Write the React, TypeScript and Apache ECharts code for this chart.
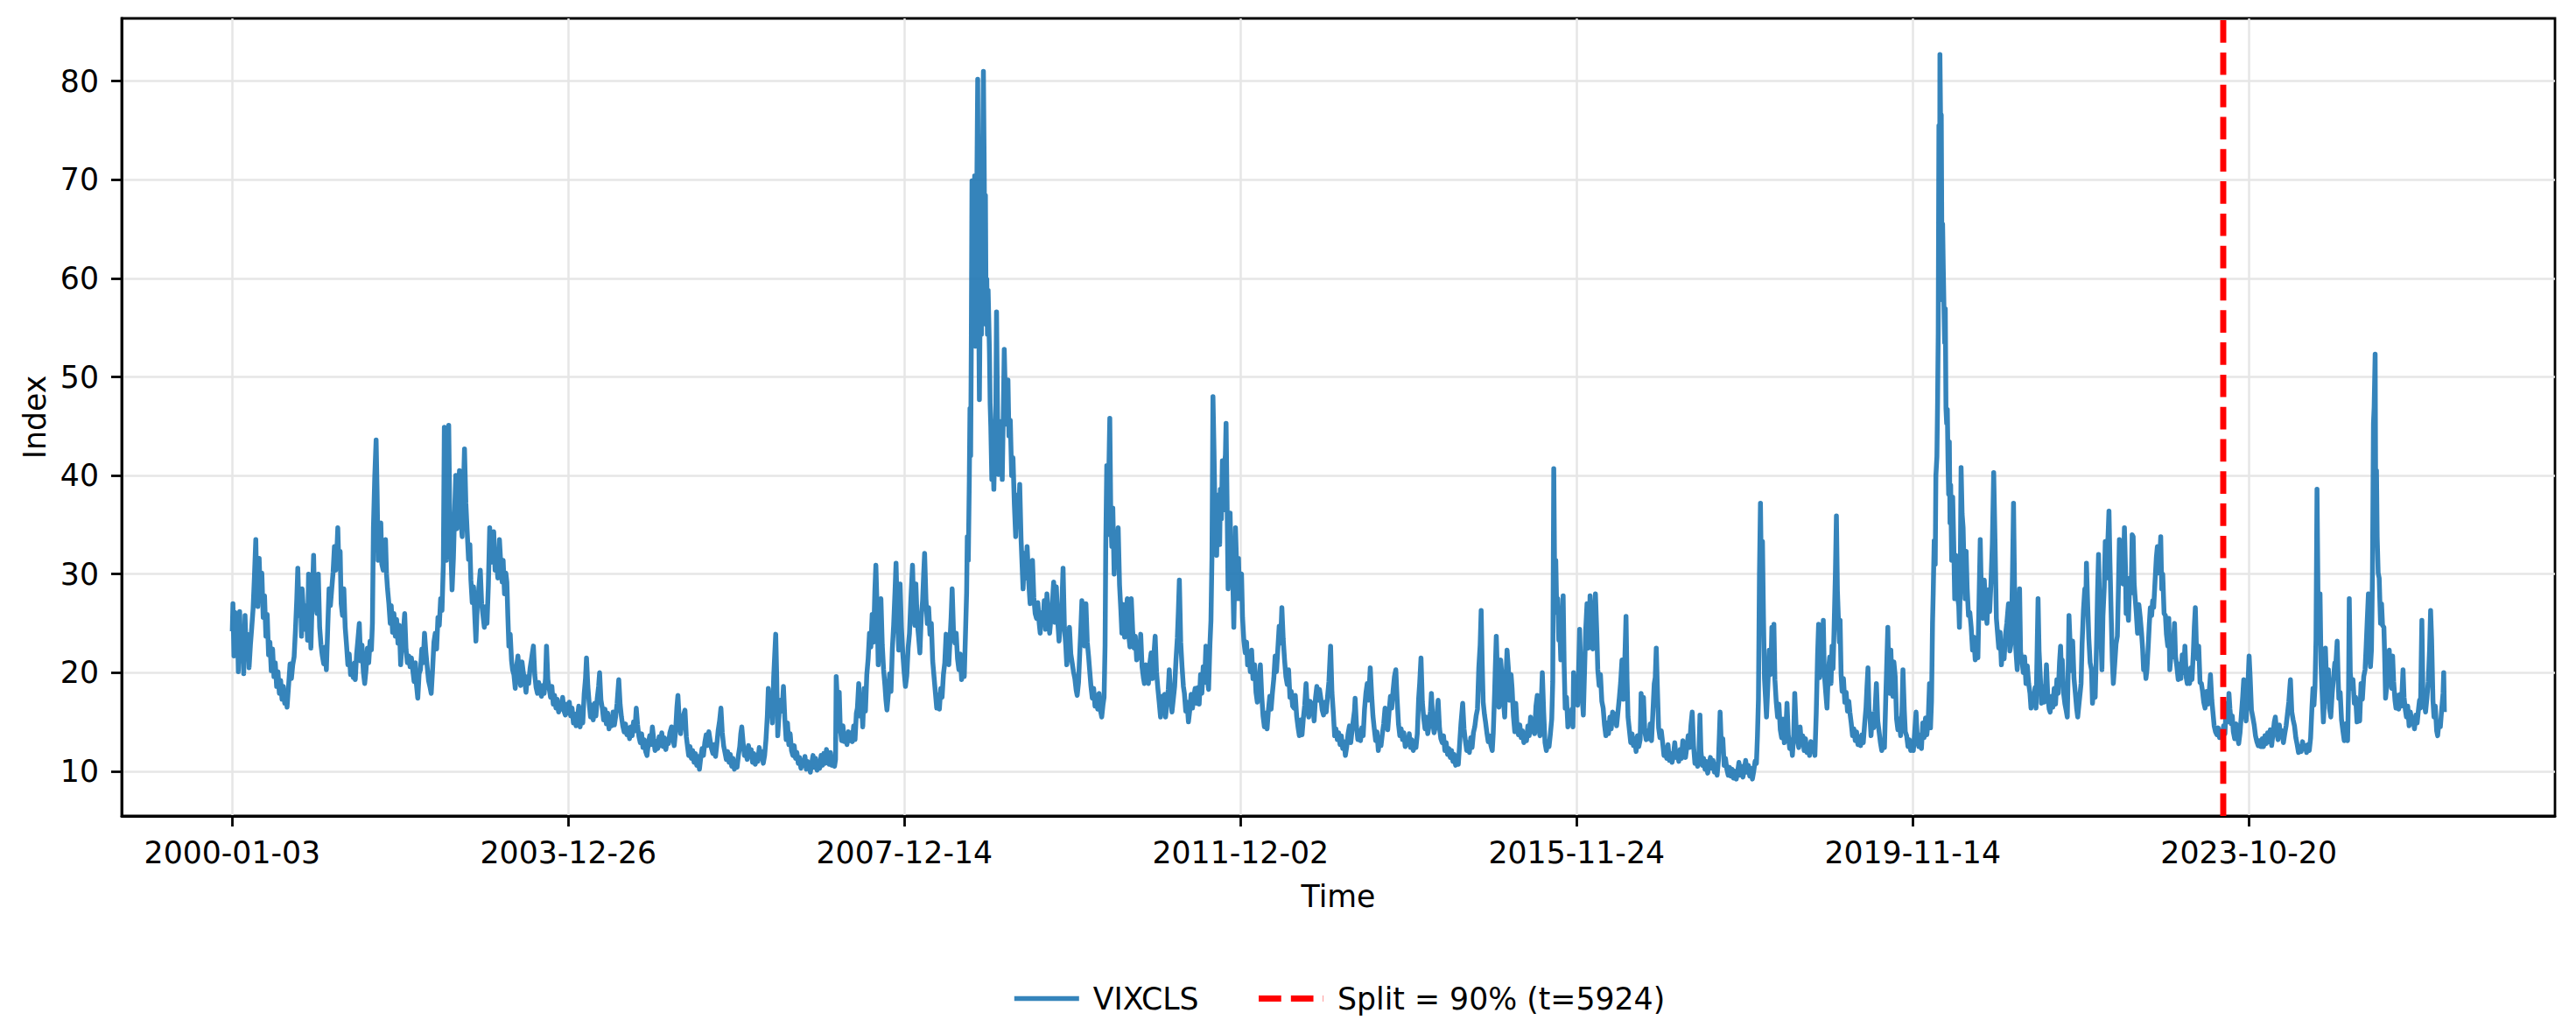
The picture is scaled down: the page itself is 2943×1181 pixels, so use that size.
import React, { useEffect, useRef } from "react";
import * as echarts from "echarts";

// ---- axis ticks ----
const tickIndex = [0, 1000, 2000, 3000, 4000, 5000, 6000];
const tickLabels = ["2000-01-03", "2003-12-26", "2007-12-14", "2011-12-02", "2015-11-24", "2019-11-14", "2023-10-20"];
const yTicks = [10, 20, 30, 40, 50, 60, 70, 80];
const nObs = 6583;
const splitIndex = 5924;
const yMin = 5.46;
const yMax = 86.37;

// ---- VIXCLS values, as [t, value] ----
const vixT0to540 = [[0,24.2],[2,27.0],[5,21.7],[8,26.1],[12,22],[15,25.4],[18,20.1],[22,26.2],[26,21.2],[30,24.5],[34,19.9],[38,25.8],[42,21.5],[46,23.9],[50,20.5],[54,22.8],[58,24.6],[62,26.5],[66,29.8],[70,33.5],[73,28.2],[76,26.7],[80,31.6],[84,27.4],[88,30.1],[92,25.6],[96,27.8],[100,23.7],[104,25.9],[108,21.8],[112,23.1],[116,20.2],[120,22.4],[124,19.6],[128,21.0],[132,18.6],[136,20.1],[140,17.9],[144,19.2],[148,17.3],[152,18.6],[156,16.9],[160,17.8],[163,16.5],[168,18.9],[172,20.9],[176,19.4],[180,20.8],[184,21.6],[188,24.3],[192,27.5],[195,30.6],[199,25.8],[203,28.4],[206,23.7],[208,28.5],[212,26.1],[216,24.4],[220,26.8],[224,23.3],[227,30.0],[231,25.9],[234,22.5],[238,27.6],[242,31.9],[245,27.2],[248,27.3],[252,26.0],[256,30.0],[260,24.6],[264,22.8],[268,21.7],[272,20.9],[276,22.6],[280,20.3],[284,24.5],[288,28.5],[292,26.8],[296,28.5],[300,30.2],[304,32.8],[308,30.4],[312,33.0],[314,34.7],[317,31.0],[321,32.3],[324,27.0],[328,25.8],[332,28.5],[336,24.6],[340,22.8],[344,20.8],[348,21.9],[352,19.8],[356,20.8],[360,19.5],[364,21.0],[366,19.3],[370,21.9],[374,23.4],[378,25.0],[382,21.2],[386,22.8],[390,20.1],[394,18.9],[398,20.3],[402,22.5],[406,21.0],[410,23.2],[414,22.3],[417,25.0],[420,34.7],[424,39.9],[428,43.6],[431,38.2],[434,31.4],[438,33.6],[442,35.2],[445,31.0],[449,30.4],[452,31.8],[456,33.5],[459,30.0],[462,28.5],[466,27.0],[470,25.0],[473,26.8],[477,24.1],[481,26.0],[485,23.7],[489,25.4],[493,23.0],[497,24.8],[501,20.8],[505,22.9],[509,24.0],[513,26.0],[517,22.4],[521,21.0],[525,21.7],[529,20.6],[533,21.5],[537,20.3]];

const vixT541to999 = [[541,19.1],[545,21.0],[548,18.8],[552,17.4],[556,19.9],[560,20.3],[564,22.4],[568,21.0],[572,24.0],[576,22.1],[580,20.6],[584,19.2],[588,18.6],[592,17.9],[596,20.3],[600,23.1],[604,24.0],[608,22.4],[612,25.6],[616,24.8],[620,27.5],[624,26.3],[628,31.0],[631,44.9],[634,36.0],[637,31.4],[641,37.8],[644,45.1],[647,36.5],[650,33.0],[654,28.4],[658,31.6],[662,36.8],[665,40.0],[668,34.6],[672,36.2],[676,40.5],[680,35.7],[684,33.8],[688,38.9],[691,42.7],[695,37.2],[699,34.3],[703,31.5],[707,33.0],[710,29.4],[714,27.1],[718,28.7],[722,25.4],[725,23.2],[729,26.8],[733,28.3],[738,30.4],[742,27.0],[746,25.8],[750,24.6],[754,26.7],[758,25.0],[762,28.9],[766,34.7],[770,31.2],[774,32.0],[778,34.3],[782,30.4],[786,31.8],[790,29.6],[795,33.5],[799,31.0],[803,29.2],[806,31.4],[810,28.0],[814,30.1],[817,29.2],[820,25.7],[823,22.7],[827,23.9],[831,21.2],[834,20.3],[838,19.8],[842,18.4],[846,20.6],[850,21.7],[854,19.5],[858,18.7],[862,21.1],[866,20.0],[870,19.2],[874,18.0],[878,19.6],[882,18.9],[886,20.4],[890,21.3],[896,22.7],[900,19.8],[904,18.5],[908,17.9],[912,19.0],[916,18.1],[920,17.6],[924,18.7],[928,17.9],[932,19.4],[935,22.7],[939,19.3],[943,18.4],[947,17.5],[951,18.6],[955,16.8],[959,17.7],[963,16.4],[967,17.3],[971,16.0],[975,16.9],[979,16.3],[983,17.5],[987,16.1],[991,15.7],[995,16.8],[999,15.9]];

const vixT1003to1728 = [[1003,17.0],[1007,15.6],[1011,16.4],[1015,14.9],[1019,15.8],[1023,14.6],[1027,15.3],[1031,16.6],[1035,14.5],[1039,15.9],[1043,14.9],[1047,17.8],[1051,19.4],[1054,21.5],[1058,18.6],[1062,16.9],[1066,15.5],[1070,16.7],[1074,15.2],[1078,16.9],[1082,15.6],[1086,17.4],[1090,18.6],[1093,20.0],[1097,17.2],[1101,16.4],[1105,15.2],[1109,16.3],[1113,14.8],[1117,15.9],[1121,14.3],[1125,15.5],[1129,14.6],[1133,16.0],[1137,14.7],[1141,15.6],[1145,16.9],[1150,19.3],[1154,16.8],[1158,15.5],[1162,14.6],[1166,14.0],[1170,14.8],[1174,13.7],[1178,14.4],[1182,13.3],[1186,14.5],[1190,13.6],[1194,15.0],[1198,14.1],[1202,16.4],[1206,14.7],[1210,13.5],[1214,12.9],[1218,13.8],[1222,12.4],[1226,13.2],[1230,12.0],[1234,11.6],[1238,12.8],[1242,13.6],[1246,12.7],[1250,14.5],[1254,13.2],[1258,12.1],[1262,13.0],[1266,12.3],[1270,13.5],[1274,12.6],[1278,13.9],[1282,12.5],[1286,13.4],[1290,12.2],[1294,13.1],[1298,12.8],[1302,13.9],[1307,14.5],[1311,13.3],[1315,12.6],[1319,14.0],[1323,16.5],[1326,17.7],[1330,15.2],[1334,13.8],[1338,14.9],[1342,15.6],[1347,16.2],[1351,13.5],[1355,12.4],[1358,11.6],[1362,12.5],[1366,11.3],[1370,12.1],[1374,10.9],[1378,11.8],[1382,10.6],[1386,11.5],[1390,10.2],[1394,11.4],[1398,12.3],[1402,11.6],[1406,12.9],[1410,13.7],[1414,12.6],[1418,14.0],[1422,13.1],[1426,12.3],[1430,11.8],[1434,12.7],[1438,11.5],[1442,12.8],[1446,14.2],[1450,15.1],[1454,16.4],[1458,13.9],[1462,12.6],[1466,11.9],[1470,11.2],[1474,12.0],[1478,10.9],[1482,11.7],[1486,10.5],[1490,11.3],[1494,10.2],[1498,11.0],[1502,10.4],[1506,11.6],[1510,12.5],[1513,13.8],[1516,14.5],[1520,12.9],[1524,11.6],[1528,12.3],[1532,11.2],[1536,12.6],[1540,11.5],[1544,12.2],[1548,10.9],[1552,11.8],[1556,10.7],[1560,11.6],[1564,11.0],[1568,12.4],[1572,11.3],[1576,12.0],[1580,10.8],[1584,11.6],[1588,13.2],[1592,15.6],[1595,18.4],[1599,16.0],[1603,17.4],[1607,14.9],[1611,19.6],[1614,21.8],[1617,23.9],[1620,19.5],[1623,13.6],[1627,15.8],[1631,17.2],[1636,16.1],[1640,18.6],[1644,15.4],[1648,13.2],[1652,14.9],[1656,12.7],[1660,13.8],[1664,12.1],[1668,11.6],[1672,12.6],[1676,11.3],[1680,11.9],[1684,10.8],[1688,11.4],[1692,10.3],[1696,11.1],[1700,10.6],[1704,11.5],[1708,10.2],[1712,11.0],[1716,10.5],[1720,9.9],[1724,10.8],[1728,11.6]];

const vixT1732to2500 = [[1732,10.4],[1736,11.3],[1740,10.1],[1744,10.9],[1748,10.3],[1752,11.6],[1756,10.6],[1760,11.8],[1764,10.8],[1768,12.2],[1772,11.3],[1776,10.7],[1780,11.9],[1784,10.6],[1788,11.4],[1792,10.5],[1795,11.2],[1797,19.6],[1800,17.5],[1803,14.1],[1806,18.0],[1809,14.4],[1813,13.1],[1817,14.6],[1821,13.0],[1825,13.8],[1829,12.7],[1833,14.0],[1837,13.1],[1841,13.9],[1845,13.0],[1849,14.6],[1853,13.2],[1857,15.9],[1860,16.4],[1864,18.9],[1868,15.6],[1872,17.0],[1876,14.5],[1880,18.4],[1884,16.1],[1888,19.8],[1892,21.4],[1896,24.0],[1900,22.6],[1904,25.9],[1908,23.1],[1912,28.3],[1915,30.9],[1919,26.1],[1922,20.8],[1926,24.7],[1930,27.5],[1934,22.8],[1938,20.3],[1942,18.7],[1945,17.2],[1948,16.2],[1952,17.8],[1956,19.9],[1960,18.1],[1964,22.4],[1968,24.9],[1972,28.3],[1975,31.1],[1979,25.8],[1983,22.3],[1987,29.0],[1991,24.6],[1995,22.0],[1999,20.1],[2003,18.6],[2007,19.7],[2011,22.5],[2015,24.0],[2019,27.3],[2024,30.9],[2028,26.1],[2031,24.8],[2034,29.0],[2038,25.2],[2042,23.7],[2046,22.0],[2050,25.6],[2054,27.3],[2057,29.8],[2060,32.1],[2064,27.5],[2068,25.0],[2072,26.6],[2076,23.9],[2080,25.0],[2084,21.2],[2088,19.6],[2092,18.0],[2096,16.4],[2100,17.7],[2104,16.3],[2108,18.4],[2112,17.5],[2116,19.8],[2120,21.0],[2124,23.9],[2128,22.1],[2132,20.8],[2136,23.6],[2139,25.7],[2142,28.5],[2146,24.2],[2150,23.0],[2154,24.0],[2158,21.4],[2162,20.3],[2166,21.9],[2170,19.3],[2174,21.0],[2178,19.6],[2182,24.4],[2185,28.1],[2187,33.8],[2190,31.4],[2193,39.5],[2195,46.8],[2197,42.0],[2199,53.7],[2201,69.9],[2203,57.0],[2205,69.3],[2207,62.1],[2209,70.4],[2211,53.1],[2213,61.8],[2215,67.6],[2218,80.2],[2220,61.4],[2223,47.7],[2225,56.1],[2227,59.9],[2229,54.3],[2231,66.3],[2233,74.3],[2235,81.0],[2237,72.7],[2239,63.1],[2241,68.4],[2243,55.3],[2245,59.9],[2247,54.3],[2249,58.8],[2251,55.7],[2253,52.4],[2255,47.3],[2257,44.9],[2260,39.6],[2263,42.5],[2266,38.6],[2269,43.3],[2272,47.3],[2274,56.6],[2277,46.1],[2280,40.1],[2283,45.5],[2286,41.6],[2289,43.4],[2291,39.6],[2294,46.0],[2297,52.8],[2300,48.5],[2304,45.2],[2308,49.7],[2311,44.0],[2315,45.6],[2319,40.0],[2323,41.8],[2327,37.1],[2331,33.8],[2335,38.0],[2339,35.2],[2343,39.1],[2347,33.5],[2350,31.0],[2353,28.5],[2357,32.1],[2361,29.6],[2365,32.8],[2370,29.1],[2374,27.0],[2378,29.2],[2381,31.4],[2385,27.6],[2389,26.0],[2393,25.5],[2397,27.1],[2401,25.0],[2404,24.0],[2408,26.1],[2412,25.0],[2416,27.3],[2420,24.4],[2424,28.0],[2428,25.7],[2432,24.0],[2436,25.6],[2440,27.0],[2444,29.2],[2448,25.1],[2452,28.7],[2456,25.3],[2460,23.2],[2464,24.9],[2468,26.6],[2472,30.6],[2476,24.6],[2480,22.8],[2483,20.8],[2487,22.0],[2491,24.6],[2495,21.9],[2499,21.0]];

const vixT2503to3466 = [[2503,20.1],[2507,19.4],[2511,18.2],[2514,17.7],[2518,19.0],[2522,22.3],[2525,24.6],[2528,27.3],[2532,24.0],[2536,22.7],[2540,27.0],[2544,23.1],[2548,21.6],[2551,20.3],[2555,18.6],[2559,17.4],[2563,18.4],[2567,16.6],[2571,17.7],[2575,16.3],[2579,17.9],[2583,16.2],[2587,15.5],[2591,16.8],[2594,17.5],[2597,22.8],[2599,32.8],[2602,41.0],[2605,34.0],[2608,40.1],[2611,45.8],[2614,35.9],[2617,32.8],[2620,36.7],[2624,30.0],[2628,34.2],[2632,31.6],[2636,34.7],[2640,28.9],[2644,26.3],[2647,24.0],[2651,26.9],[2655,23.6],[2659,25.9],[2663,27.5],[2667,23.9],[2671,22.6],[2675,27.5],[2679,24.3],[2683,22.5],[2687,23.7],[2691,21.3],[2695,22.9],[2699,21.5],[2703,23.9],[2707,20.6],[2711,19.5],[2714,18.9],[2718,20.8],[2722,19.2],[2726,18.9],[2730,20.9],[2734,22.0],[2738,19.4],[2742,21.7],[2746,23.7],[2750,20.1],[2754,18.4],[2758,17.0],[2762,15.5],[2766,17.6],[2770,16.2],[2774,17.8],[2777,15.5],[2781,16.9],[2785,18.3],[2788,20.3],[2792,17.6],[2796,16.0],[2800,17.3],[2804,18.6],[2808,21.3],[2812,23.5],[2815,26.2],[2818,29.4],[2822,23.1],[2826,20.6],[2830,18.6],[2833,17.9],[2837,16.1],[2841,17.0],[2845,15.0],[2849,16.2],[2853,17.8],[2857,16.4],[2861,17.6],[2865,18.4],[2869,16.9],[2873,18.5],[2877,16.8],[2881,19.8],[2885,17.9],[2889,20.6],[2893,19.0],[2897,22.7],[2901,19.6],[2905,18.3],[2909,22.9],[2912,25.3],[2915,31.7],[2918,48.0],[2921,42.7],[2924,36.2],[2927,33.9],[2929,31.9],[2932,38.0],[2935,35.1],[2938,33.0],[2940,38.6],[2943,35.6],[2946,41.5],[2949,36.5],[2952,40.8],[2955,42.1],[2957,45.3],[2960,37.2],[2963,28.5],[2966,32.1],[2969,36.2],[2972,30.9],[2975,33.3],[2978,27.8],[2980,24.6],[2983,30.2],[2985,34.7],[2988,31.4],[2991,27.5],[2994,31.6],[2997,27.5],[3000,29.9],[3003,30.0],[3006,25.6],[3010,23.2],[3014,22.0],[3018,23.1],[3021,20.8],[3025,21.9],[3029,20.1],[3033,22.3],[3037,19.4],[3042,20.8],[3046,18.0],[3050,17.0],[3054,18.4],[3059,20.8],[3063,17.7],[3067,15.6],[3071,14.5],[3075,15.9],[3079,14.3],[3083,16.2],[3087,17.6],[3091,16.3],[3095,18.0],[3099,19.4],[3103,21.7],[3107,20.1],[3111,22.4],[3115,24.7],[3119,23.0],[3123,26.6],[3127,23.4],[3131,21.3],[3135,19.6],[3139,18.8],[3143,20.3],[3147,17.5],[3151,18.1],[3155,16.6],[3159,16.4],[3163,17.7],[3167,15.6],[3171,14.5],[3175,13.6],[3179,15.2],[3183,13.7],[3187,15.4],[3191,16.7],[3195,18.9],[3199,16.3],[3203,15.5],[3207,17.1],[3211,15.8],[3215,16.9],[3219,15.1],[3223,17.4],[3227,18.6],[3231,17.2],[3235,18.3],[3239,17.4],[3243,16.2],[3247,15.7],[3251,17.0],[3255,16.0],[3259,17.6],[3263,19.1],[3268,22.7],[3272,18.0],[3276,16.0],[3280,13.6],[3284,14.3],[3288,13.2],[3292,13.9],[3296,12.7],[3300,13.6],[3304,12.3],[3308,13.0],[3312,11.6],[3316,12.5],[3320,13.8],[3324,14.6],[3328,12.9],[3332,14.2],[3336,15.3],[3339,16.1],[3341,17.4],[3345,14.6],[3349,13.2],[3353,14.1],[3357,13.1],[3361,14.4],[3365,13.6],[3369,16.3],[3373,17.9],[3377,18.9],[3381,17.2],[3386,20.5],[3390,17.8],[3394,15.6],[3398,14.3],[3402,13.1],[3406,14.0],[3410,12.1],[3414,13.4],[3418,12.6],[3422,13.8],[3426,14.8],[3430,16.4],[3434,15.0],[3438,14.2],[3442,16.0],[3446,17.6],[3450,16.4],[3454,18.2],[3458,19.6],[3462,20.3],[3466,17.3]];

const vixT3470to4535 = [[3470,14.8],[3474,13.6],[3478,14.3],[3482,13.2],[3486,13.9],[3490,12.5],[3494,13.4],[3498,12.7],[3502,13.8],[3506,12.4],[3510,13.2],[3514,12.1],[3518,13.0],[3522,12.4],[3526,13.8],[3530,17.4],[3533,18.9],[3537,21.5],[3541,17.0],[3545,15.4],[3549,14.3],[3553,15.5],[3557,13.8],[3561,14.6],[3565,16.1],[3568,17.9],[3572,15.0],[3576,13.9],[3580,14.5],[3584,15.6],[3588,17.2],[3592,14.4],[3596,13.3],[3600,12.9],[3604,13.6],[3608,12.1],[3612,12.9],[3616,11.7],[3620,12.3],[3624,11.4],[3628,12.1],[3632,11.0],[3636,11.7],[3640,10.6],[3644,11.5],[3648,10.7],[3652,12.8],[3656,14.9],[3661,16.9],[3665,14.3],[3669,13.1],[3673,12.1],[3677,12.9],[3681,11.9],[3685,13.4],[3689,12.4],[3693,13.9],[3697,14.5],[3701,15.6],[3705,16.3],[3709,20.5],[3713,22.8],[3716,26.3],[3719,21.1],[3722,17.0],[3726,15.7],[3729,15.0],[3733,13.9],[3737,13.0],[3741,13.6],[3745,12.6],[3749,12.1],[3752,13.9],[3756,17.9],[3758,20.4],[3761,23.7],[3765,19.2],[3769,16.5],[3772,17.8],[3774,21.3],[3778,19.6],[3782,17.3],[3786,15.5],[3789,18.6],[3793,22.3],[3797,20.4],[3801,17.2],[3805,19.8],[3808,18.4],[3812,15.6],[3816,14.0],[3819,16.9],[3823,14.5],[3827,13.7],[3831,14.7],[3835,13.4],[3839,14.1],[3843,12.9],[3847,13.8],[3851,13.1],[3855,14.6],[3859,13.6],[3863,15.5],[3867,14.0],[3871,15.1],[3875,13.8],[3879,16.6],[3883,17.7],[3887,14.4],[3891,13.6],[3895,17.1],[3898,20.0],[3902,16.0],[3906,12.9],[3910,12.1],[3914,13.0],[3918,12.5],[3922,13.8],[3926,15.3],[3929,19.1],[3932,40.7],[3935,28.0],[3938,31.4],[3941,26.1],[3944,27.5],[3947,23.3],[3950,24.4],[3953,21.3],[3957,24.9],[3960,27.8],[3963,20.6],[3966,16.4],[3970,17.5],[3974,14.5],[3978,15.8],[3982,14.9],[3986,16.3],[3989,14.5],[3991,20.0],[3995,16.9],[3999,18.1],[4003,16.7],[4006,20.2],[4009,24.4],[4013,19.3],[4017,17.3],[4020,15.7],[4024,20.6],[4027,24.3],[4031,27.0],[4035,22.5],[4038,24.7],[4040,27.8],[4044,23.8],[4048,22.4],[4052,25.4],[4056,28.0],[4060,24.1],[4063,20.3],[4067,18.7],[4071,19.8],[4075,17.1],[4079,16.4],[4083,14.7],[4087,13.6],[4091,14.9],[4095,13.8],[4099,15.5],[4103,14.3],[4107,16.0],[4111,14.9],[4115,15.8],[4119,14.6],[4123,16.0],[4127,17.4],[4131,19.0],[4135,21.3],[4139,17.3],[4143,20.7],[4147,25.7],[4150,19.4],[4153,15.5],[4157,14.2],[4161,12.9],[4165,13.8],[4169,12.6],[4173,13.3],[4177,12.0],[4181,13.6],[4185,12.5],[4189,13.2],[4192,17.9],[4196,15.4],[4199,17.5],[4203,14.0],[4207,13.2],[4211,14.1],[4215,13.3],[4219,14.8],[4223,13.1],[4227,16.0],[4231,18.9],[4234,19.5],[4237,22.5],[4240,18.8],[4244,14.4],[4248,13.4],[4252,14.1],[4256,12.9],[4260,11.6],[4264,12.4],[4268,11.3],[4272,12.7],[4276,11.1],[4280,11.8],[4284,10.9],[4288,11.6],[4292,12.9],[4296,11.4],[4300,12.0],[4304,11.0],[4308,12.2],[4312,11.3],[4316,13.1],[4320,12.0],[4324,11.4],[4328,12.5],[4332,13.6],[4336,12.4],[4340,14.6],[4344,16.0],[4348,12.6],[4352,10.8],[4356,11.4],[4360,10.5],[4364,11.9],[4367,15.7],[4370,12.0],[4374,10.6],[4378,11.3],[4382,10.2],[4386,11.0],[4390,9.8],[4394,10.6],[4398,11.4],[4402,10.3],[4406,11.1],[4410,9.9],[4414,10.7],[4418,9.6],[4422,11.1],[4425,13.9],[4427,16.0],[4431,12.3],[4435,13.3],[4439,10.6],[4443,11.3],[4447,10.2],[4451,9.6],[4455,10.4],[4459,9.5],[4463,10.2],[4467,9.3],[4471,10.0],[4475,9.2],[4479,9.9],[4483,10.9],[4487,9.6],[4491,10.5],[4495,9.4],[4499,10.2],[4503,11.1],[4507,9.9],[4511,10.6],[4515,9.5],[4519,10.3],[4523,9.2],[4527,10.0],[4531,11.0],[4535,10.8]];

const vixT4538to5050 = [[4538,13.5],[4541,17.3],[4544,29.9],[4547,37.2],[4550,29.1],[4553,33.3],[4556,25.6],[4559,19.4],[4562,17.5],[4565,15.5],[4569,18.7],[4573,22.3],[4576,19.8],[4579,21.6],[4581,24.6],[4584,20.1],[4587,24.9],[4590,19.3],[4594,17.0],[4598,15.5],[4602,16.8],[4606,14.2],[4610,13.4],[4614,15.3],[4618,12.9],[4622,13.8],[4626,16.9],[4630,13.6],[4634,12.3],[4638,13.2],[4642,11.6],[4646,13.7],[4649,17.9],[4653,14.6],[4657,13.2],[4661,12.4],[4665,14.5],[4669,12.7],[4673,13.6],[4677,12.1],[4681,13.3],[4685,11.9],[4689,12.7],[4693,11.6],[4697,13.0],[4701,12.0],[4705,12.9],[4709,11.6],[4713,15.9],[4717,21.8],[4720,24.9],[4723,19.5],[4727,21.3],[4730,19.9],[4734,25.3],[4737,19.9],[4741,18.1],[4745,16.4],[4749,20.1],[4753,21.6],[4757,18.9],[4760,22.7],[4763,20.4],[4766,24.3],[4770,30.1],[4773,35.9],[4776,28.3],[4779,25.4],[4782,23.1],[4784,25.3],[4787,19.8],[4790,18.1],[4794,19.4],[4798,17.0],[4802,18.0],[4806,16.1],[4810,17.1],[4813,16.0],[4817,14.9],[4821,13.6],[4825,14.3],[4829,13.1],[4833,14.0],[4837,12.7],[4841,13.5],[4845,12.6],[4849,13.7],[4853,12.9],[4857,14.8],[4861,16.4],[4864,18.6],[4867,20.5],[4870,16.3],[4873,15.4],[4876,13.6],[4880,15.8],[4884,14.4],[4888,16.1],[4892,18.9],[4896,15.1],[4900,14.0],[4904,12.9],[4908,12.1],[4912,13.0],[4916,12.4],[4920,17.6],[4923,21.1],[4926,24.6],[4929,19.5],[4932,17.9],[4935,22.3],[4938,19.3],[4941,17.6],[4944,21.1],[4948,19.6],[4952,15.3],[4956,14.2],[4960,15.3],[4964,13.6],[4968,16.0],[4971,20.3],[4975,16.2],[4978,14.0],[4982,13.6],[4986,12.5],[4990,13.2],[4994,12.1],[4998,12.9],[5002,12.1],[5006,14.0],[5010,16.0],[5014,13.2],[5018,12.5],[5022,13.7],[5026,12.3],[5030,14.9],[5034,13.4],[5038,15.4],[5042,13.7],[5046,15.0],[5050,18.9]];

const vixT5053to5900 = [[5053,14.4],[5056,17.1],[5059,25.0],[5061,28.0],[5064,33.4],[5067,31.0],[5069,40.0],[5072,41.9],[5074,47.3],[5076,54.5],[5078,75.5],[5080,57.8],[5081,82.7],[5083,75.9],[5085,76.6],[5087,61.6],[5089,65.5],[5091,61.0],[5093,57.1],[5095,53.5],[5097,56.9],[5099,46.8],[5101,45.3],[5103,46.7],[5105,41.7],[5107,38.1],[5109,43.4],[5111,35.2],[5113,39.0],[5116,31.4],[5119,37.8],[5122,33.3],[5125,27.5],[5128,31.9],[5131,29.0],[5134,27.6],[5137,26.8],[5139,24.6],[5141,28.0],[5144,40.8],[5147,36.1],[5150,34.7],[5153,30.4],[5156,27.5],[5159,32.3],[5162,28.6],[5166,25.8],[5170,26.1],[5174,24.6],[5178,22.3],[5182,23.6],[5186,21.3],[5190,22.5],[5194,21.5],[5197,26.6],[5201,33.5],[5205,26.9],[5209,25.5],[5213,29.4],[5217,26.7],[5221,25.0],[5225,28.4],[5229,26.2],[5233,29.2],[5237,33.1],[5241,40.3],[5245,33.3],[5249,25.5],[5253,23.8],[5256,22.5],[5260,24.1],[5264,20.8],[5268,22.9],[5272,21.4],[5276,23.8],[5280,25.0],[5285,27.0],[5289,22.2],[5293,23.0],[5297,30.2],[5300,37.2],[5303,28.9],[5307,22.3],[5311,20.3],[5315,23.4],[5318,28.5],[5321,22.1],[5325,21.3],[5329,20.0],[5333,21.6],[5337,18.9],[5341,20.7],[5345,18.9],[5349,17.9],[5352,16.4],[5356,17.5],[5360,16.9],[5364,18.5],[5367,16.4],[5370,21.8],[5373,27.5],[5376,22.2],[5380,19.4],[5383,16.9],[5387,18.6],[5391,17.0],[5395,18.4],[5398,20.8],[5402,17.6],[5406,16.3],[5409,16.0],[5413,17.6],[5417,16.5],[5421,18.4],[5425,16.8],[5429,19.3],[5433,17.9],[5437,21.1],[5440,22.7],[5443,19.6],[5445,21.3],[5449,17.9],[5453,16.8],[5457,16.1],[5460,15.5],[5463,20.9],[5465,25.8],[5468,23.3],[5472,20.2],[5476,23.2],[5480,19.4],[5484,17.9],[5488,16.3],[5491,15.5],[5495,16.9],[5499,18.2],[5501,18.9],[5504,22.9],[5508,26.3],[5512,28.5],[5515,26.8],[5517,31.1],[5520,27.6],[5524,23.5],[5528,21.0],[5532,20.3],[5535,16.9],[5539,18.8],[5543,17.5],[5547,22.8],[5550,28.1],[5553,32.0],[5556,27.2],[5559,24.9],[5563,20.3],[5566,25.7],[5570,28.7],[5573,33.3],[5577,29.6],[5581,33.6],[5584,36.4],[5587,31.1],[5590,26.7],[5594,21.2],[5597,18.9],[5601,20.8],[5605,22.9],[5609,23.7],[5612,28.4],[5615,33.5],[5618,29.9],[5622,31.8],[5626,29.0],[5630,34.7],[5633,30.8],[5635,26.0],[5638,27.2],[5642,25.3],[5646,29.6],[5650,28.1],[5653,34.0],[5656,33.8],[5659,29.0],[5661,28.0],[5665,26.2],[5669,24.0],[5673,26.9],[5677,25.6],[5681,24.0],[5684,22.5],[5687,20.3],[5690,21.3],[5694,19.4],[5697,20.3],[5701,22.8],[5704,24.9],[5707,26.6],[5711,25.8],[5714,27.3],[5717,26.6],[5721,29.2],[5725,31.7],[5728,32.8],[5731,30.1],[5735,31.4],[5738,33.8],[5741,28.5],[5744,30.0],[5748,26.0],[5752,25.8],[5755,23.9],[5759,22.7],[5762,25.5],[5765,20.3],[5769,22.0],[5773,21.6],[5776,23.2],[5779,25.0],[5782,21.7],[5786,20.6],[5790,19.3],[5794,20.9],[5798,19.4],[5802,21.8],[5806,20.0],[5810,22.7],[5814,19.5],[5817,18.9],[5820,19.9],[5824,18.9],[5827,20.5],[5831,19.3],[5835,22.0],[5838,24.7],[5841,26.6],[5844,22.9],[5848,21.4],[5851,22.7],[5855,19.0],[5859,18.9],[5862,18.2],[5866,17.0],[5870,16.4],[5874,18.1],[5878,16.8],[5882,17.9],[5886,19.8],[5890,17.2],[5893,16.1],[5897,14.6]];

const vixT5901to6582 = [[5901,14.0],[5905,13.7],[5909,14.4],[5913,13.4],[5917,13.9],[5921,13.6],[5925,14.6],[5929,13.8],[5932,16.1],[5934,16.9],[5938,15.0],[5941,17.9],[5944,16.3],[5948,14.8],[5951,15.6],[5954,14.0],[5958,13.3],[5962,14.8],[5966,13.6],[5970,12.8],[5974,13.9],[5978,15.8],[5982,17.6],[5985,19.3],[5988,17.0],[5992,15.1],[5995,17.3],[5998,19.2],[6001,21.7],[6004,19.6],[6008,16.2],[6012,15.5],[6016,14.7],[6020,13.6],[6024,13.0],[6028,12.6],[6032,13.1],[6036,12.5],[6040,13.3],[6044,12.5],[6048,13.6],[6052,12.8],[6056,13.9],[6060,13.0],[6064,14.2],[6068,12.6],[6072,13.8],[6076,15.0],[6079,15.5],[6083,14.0],[6087,13.2],[6091,14.7],[6095,13.5],[6099,14.1],[6103,12.9],[6107,13.8],[6111,14.6],[6115,15.8],[6119,17.0],[6122,18.4],[6124,19.3],[6128,16.0],[6132,15.2],[6136,14.6],[6140,13.4],[6144,12.7],[6148,11.9],[6152,12.5],[6156,12.0],[6160,13.0],[6164,12.3],[6168,12.6],[6172,11.9],[6176,12.7],[6180,12.1],[6184,13.4],[6188,16.5],[6191,18.4],[6194,16.7],[6197,18.6],[6200,23.4],[6203,38.6],[6206,27.7],[6209,23.0],[6212,28.0],[6215,20.7],[6218,18.2],[6222,15.0],[6225,17.0],[6228,22.5],[6231,19.5],[6234,17.1],[6237,20.3],[6240,16.4],[6244,15.5],[6248,17.8],[6252,19.4],[6256,21.0],[6259,20.9],[6263,23.2],[6266,19.3],[6268,17.4],[6272,18.0],[6276,15.2],[6280,14.1],[6284,13.1],[6287,14.8],[6291,13.8],[6294,13.1],[6297,18.5],[6299,27.5],[6302,20.0],[6306,18.4],[6310,19.3],[6314,16.9],[6318,17.5],[6322,15.0],[6326,16.2],[6330,15.1],[6334,18.9],[6338,17.3],[6342,19.6],[6346,20.3],[6349,22.5],[6352,24.9],[6356,28.0],[6359,21.8],[6362,20.6],[6365,22.3],[6368,30.0],[6371,45.3],[6373,46.9],[6376,52.3],[6378,33.6],[6380,40.5],[6382,33.8],[6385,30.1],[6388,29.6],[6392,25.0],[6395,27.0],[6398,24.8],[6402,24.6],[6404,22.1],[6407,17.4],[6410,18.5],[6414,20.5],[6418,22.3],[6421,19.7],[6425,18.4],[6428,21.7],[6431,19.1],[6435,17.2],[6438,16.4],[6442,17.7],[6446,16.3],[6450,17.8],[6454,16.6],[6459,20.3],[6462,17.5],[6466,16.2],[6469,15.5],[6473,16.6],[6477,14.6],[6481,16.0],[6485,14.8],[6489,15.4],[6493,14.3],[6497,15.7],[6501,14.9],[6505,16.3],[6508,17.2],[6511,16.4],[6513,21.0],[6515,25.3],[6518,18.2],[6522,17.1],[6526,16.0],[6530,17.4],[6534,19.1],[6538,22.4],[6541,26.3],[6544,23.4],[6548,17.2],[6551,15.5],[6555,16.6],[6559,14.1],[6562,13.6],[6566,15.0],[6570,14.5],[6574,16.3],[6578,17.9],[6580,20.0],[6582,16.0]];

const vixSeries = [
  ...vixT0to540, ...vixT541to999, ...vixT1003to1728, ...vixT1732to2500,
  ...vixT2503to3466, ...vixT3470to4535, ...vixT4538to5050, ...vixT5053to5900, ...vixT5901to6582,
];

const FONT = "'DejaVu Sans', 'Liberation Sans', sans-serif";
const FS = 34.7;
const SERIES_NAME = "VIXCLS";
const SPLIT_NAME = "Split = 90% (t=5924)";

export default function App() {
  const ref = useRef<HTMLDivElement>(null);
  useEffect(() => {
    document.body.style.margin = "0";
    if (!ref.current) return;
    const chart = echarts.init(ref.current, null, { renderer: "svg" });
    const last = nObs - 1;
    const xMin = -0.05 * last;
    const xMax = last * 1.05;
    const textStyle = { fontFamily: FONT, fontSize: FS, color: "#000" };
    chart.setOption({
      animation: false,
      backgroundColor: "#ffffff",
      grid: {
        left: 139, top: 21, width: 2780, height: 911,
        show: true, borderColor: "#000", borderWidth: 2.8, backgroundColor: "transparent",
      },
      xAxis: {
        type: "value", min: xMin, max: xMax,
        name: "Time", nameLocation: "middle", nameGap: 74,
        nameTextStyle: textStyle,
        axisLine: { show: true, onZero: false, lineStyle: { color: "#000", width: 2.8 } },
        axisTick: { show: true, length: 12, lineStyle: { color: "#000", width: 2.8 }, customValues: tickIndex },
        axisLabel: {
          ...textStyle, margin: 24, customValues: tickIndex,
          formatter: (v: number) => { const i = tickIndex.indexOf(Math.round(v)); return i >= 0 ? tickLabels[i] : ""; },
        },
        splitLine: { show: true, lineStyle: { color: "#e6e6e6", width: 2.5 } },
      },
      yAxis: {
        type: "value", min: yMin, max: yMax,
        name: "Index", nameLocation: "middle", nameGap: 82,
        nameTextStyle: textStyle,
        axisLine: { show: true, onZero: false, lineStyle: { color: "#000", width: 2.8 } },
        axisTick: { show: true, length: 12, lineStyle: { color: "#000", width: 2.8 }, customValues: yTicks },
        axisLabel: { ...textStyle, margin: 26, customValues: yTicks },
        splitLine: { show: true, lineStyle: { color: "#e6e6e6", width: 2.5 } },
      },
      legend: {
        left: 1151, top: 1118, itemWidth: 74, itemHeight: 36, itemGap: 65,
        textStyle: { ...textStyle, padding: [0, 0, 0, 11] },
        itemStyle: { opacity: 0, borderWidth: 0 },
        data: [
          { name: SERIES_NAME, lineStyle: { width: 5.6, color: "#1f77b4", opacity: 0.9 } },
          { name: SPLIT_NAME, lineStyle: { width: 6.94, color: "#ff0000", type: [25.7, 11.1] } },
        ],
      },
      series: [
        {
          name: SERIES_NAME, type: "line", data: vixSeries, showSymbol: false, symbol: "none",
          clip: true, z: 3,
          lineStyle: { color: "#1f77b4", width: 5.5, opacity: 0.9, join: "round" },
          itemStyle: { color: "#1f77b4" },
        },
        {
          name: SPLIT_NAME, type: "line", showSymbol: false, symbol: "none", z: 4,
          data: [[splitIndex, yMin], [splitIndex, yMax]],
          lineStyle: { color: "#ff0000", width: 6.94, type: [25.7, 11.1], cap: "butt" },
          itemStyle: { color: "#ff0000" },
        },
      ],
    });
    return () => chart.dispose();
  }, []);
  return <div ref={ref} style={{ width: 2943, height: 1181 }} />;
}
